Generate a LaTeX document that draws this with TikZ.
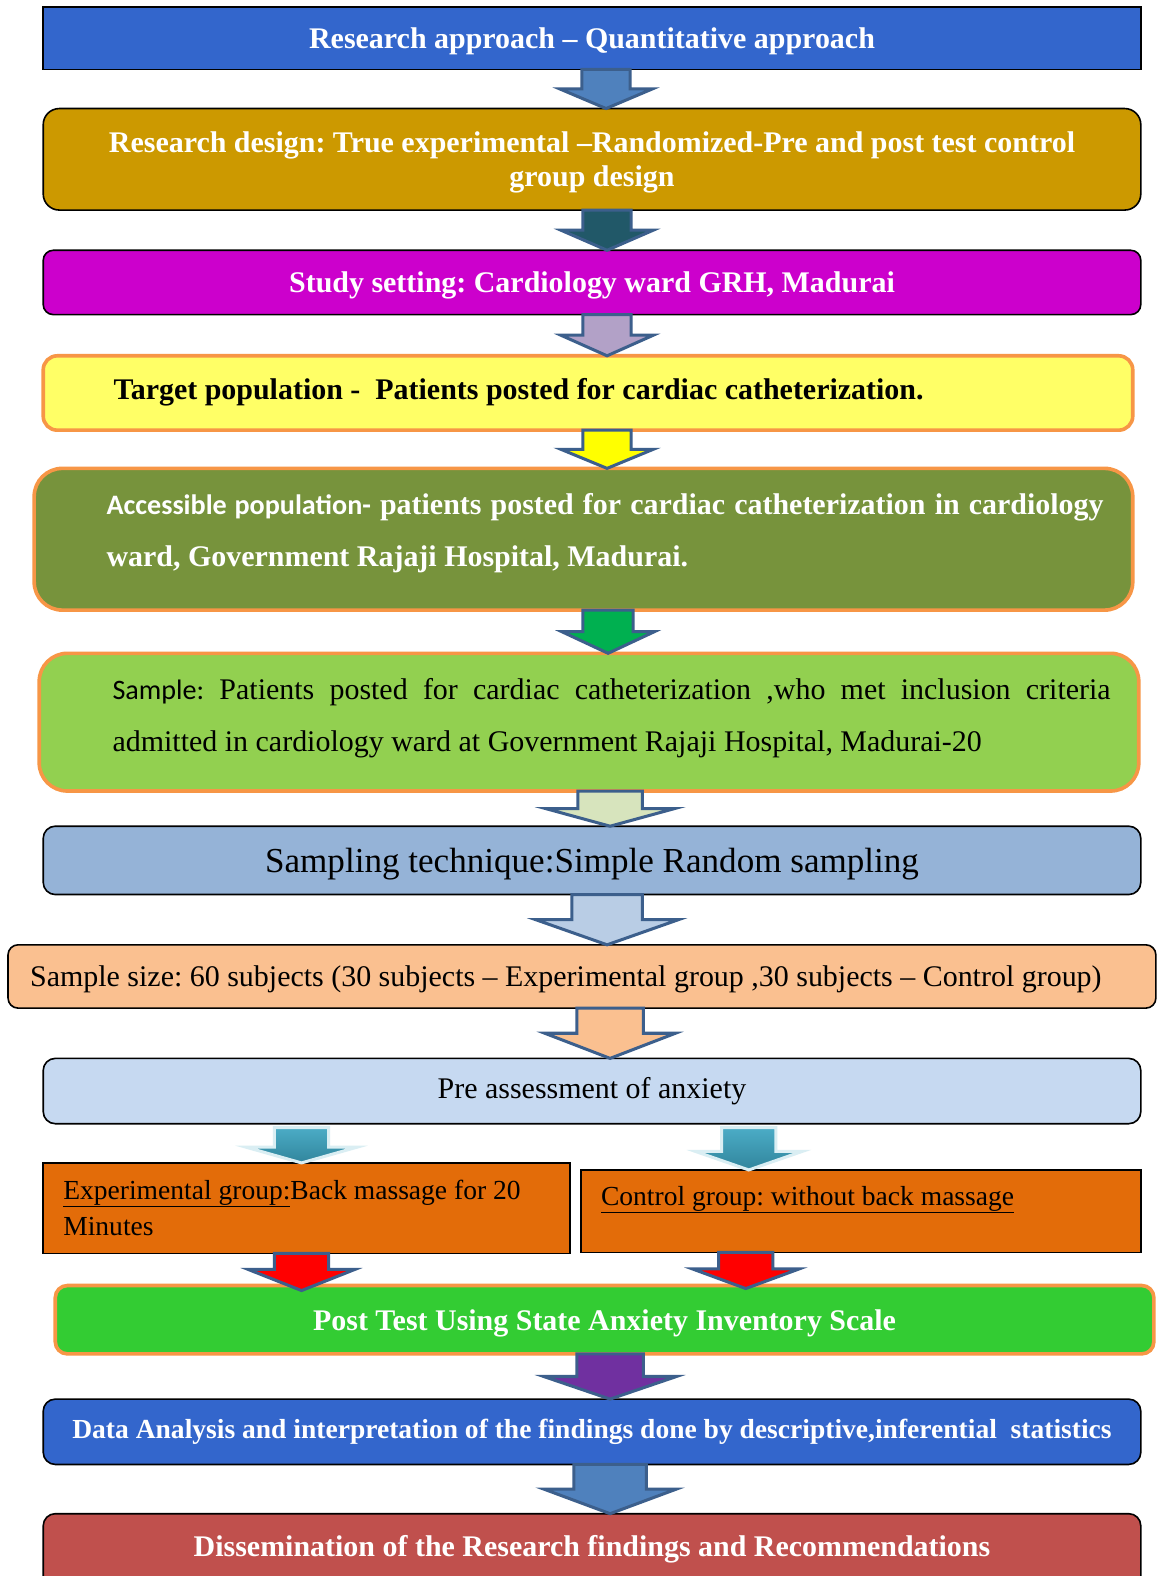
\documentclass[tikz,border=0pt]{standalone}
\usepackage{fontspec}
\setmainfont{Liberation Serif}
\newfontfamily\calibrifont{Carlito}
\usetikzlibrary{calc}
\frenchspacing
\definecolor{c1}{HTML}{3366CC}
\definecolor{c2}{HTML}{CC9900}
\definecolor{c3}{HTML}{CC00CC}
\definecolor{c4}{HTML}{FFFF66}
\definecolor{c5}{HTML}{77933C}
\definecolor{c6}{HTML}{92D050}
\definecolor{c7}{HTML}{95B3D7}
\definecolor{c8}{HTML}{FAC090}
\definecolor{c9}{HTML}{C6D9F1}
\definecolor{cten}{HTML}{E36C09}
\definecolor{celeven}{HTML}{33CC33}
\definecolor{cthirteen}{HTML}{C0504D}
\definecolor{orgline}{HTML}{F79646}
\definecolor{arrline}{HTML}{3C5F8C}
\definecolor{aA}{HTML}{4F81BD}
\definecolor{aB}{HTML}{215868}
\definecolor{aC}{HTML}{B2A1C7}
\definecolor{aD}{HTML}{FFFF00}
\definecolor{aE}{HTML}{00B050}
\definecolor{aF}{HTML}{D7E4BD}
\definecolor{aG}{HTML}{B9CDE5}
\definecolor{aH}{HTML}{FAC090}
\definecolor{aK}{HTML}{7030A0}
\definecolor{tealA}{HTML}{4BACC6}
\definecolor{tealB}{HTML}{31859C}
\definecolor{tglow}{HTML}{DAEEF3}
\newcommand\fsA{\fontsize{29.8}{34}\selectfont}
\newcommand\fsB{\fontsize{29.8}{36}\selectfont}
\newcommand\fsC{\fontsize{34.9}{40}\selectfont}
\newcommand\fsD{\fontsize{27.4}{30}\selectfont}
\newcommand\fsE{\fontsize{27.4}{36}\selectfont}
\tikzset{
  every node/.style={inner sep=0pt, outer sep=0pt},
  sqbox/.style={draw=black, line width=1.6pt, align=center},
  rbox/.style={draw=black, line width=1.6pt, align=center},
  obox/.style={draw=orgline, line width=3.6pt, align=center},
  wtxt/.style={text=white, font=\bfseries\fsA},
  low/.style={text depth=0pt},
  barrowline/.style={draw=arrline, line width=3pt, line join=miter},
}
% box: name, x1, y1, x2, y2, style, text
\newcommand\bx[7]{%
  \node[#6, minimum width={(#4-#2)*1pt}, minimum height={(#5-#3)*1pt}] (#1) at ({(#2+#4)/2},{(#3+#5)/2}) {#7};}
% block arrow: [overshoot] from, to, centre x, shaft half width, head half width, fill
\newcommand\barrow[7][0]{%
  \path[barrowline, fill=#7] let \p1=(#2.south), \p2=(#3.north), \n1={0.5*(\y1-\y2)} in
   ({(#4-#5)*1pt},\y1) -- ({(#4+#5)*1pt},\y1) -- ({(#4+#5)*1pt},{\y1-\n1}) --
   ({(#4+#6)*1pt},{\y1-\n1}) -- ({#4*1pt},{\y2-#1*1pt}) -- ({(#4-#6)*1pt},{\y1-\n1}) --
   ({(#4-#5)*1pt},{\y1-\n1}) -- cycle;}
% shaded teal arrow: from, to, centre x, shaft half, head half
\newcommand\tarrow[5]{%
  \path[draw=tglow, line width=3pt, line join=miter, top color=tealA, bottom color=tealB]
   let \p1=(#1.south), \p2=(#2.north), \n1={0.6*(\y1-\y2)} in
   ({(#3-#4)*1pt},{\y1-4pt}) -- ({(#3+#4)*1pt},{\y1-4pt}) -- ({(#3+#4)*1pt},{\y1-\n1}) --
   ({(#3+#5)*1pt},{\y1-\n1}) -- ({#3*1pt},\y2) -- ({(#3-#5)*1pt},{\y1-\n1}) --
   ({(#3-#4)*1pt},{\y1-\n1}) -- cycle;}
\begin{document}
\begin{tikzpicture}[x=1pt,y=-1pt]
\path[use as bounding box, fill=white] (0,0) rectangle (1151,1568);
% boxes
\bx{b1}{43}{7}{1135}{69}{sqbox, fill=c1, wtxt, low}{Research approach – Quantitative approach}
\bx{b2}{43}{108}{1135}{209}{rbox, fill=c2, wtxt, low, rounded corners=16pt}{Research design: True experimental –Randomized-Pre and post test control\\group design}
\bx{b3}{43}{249}{1135}{313}{rbox, fill=c3, wtxt, low, rounded corners=10pt}{Study setting: Cardiology ward GRH, Madurai}
\bx{b4}{43}{354}{1127}{428}{obox, fill=c4, rounded corners=14pt}{}
\bx{b5}{34}{466}{1127}{607}{obox, fill=c5, rounded corners=28pt}{}
\bx{b6}{39}{650}{1133}{787}{obox, fill=c6, rounded corners=28pt}{}
\bx{b7}{43}{822}{1135}{890}{rbox, fill=c7, low, rounded corners=12pt, font=\fsC}{Sampling technique:Simple Random sampling}
\bx{b8}{8}{940}{1150}{1003}{rbox, fill=c8, rounded corners=10pt}{}
\bx{b9}{43}{1053}{1135}{1118}{rbox, fill=c9, rounded corners=12pt, font=\fsB}{Pre assessment of anxiety}
\bx{b10l}{43}{1157}{567}{1247}{sqbox, fill=cten}{}
\bx{b10r}{578}{1164}{1135}{1246}{sqbox, fill=cten}{}
\bx{b11}{55}{1279}{1148}{1347}{obox, fill=celeven, rounded corners=12pt, wtxt, low}{Post Test Using State Anxiety Inventory Scale}
\bx{b12}{43}{1392}{1135}{1457}{rbox, fill=c1, rounded corners=12pt, text=white, font=\bfseries\fsD}{Data Analysis and interpretation of the findings done by descriptive,inferential\ \ statistics}
\bx{b13}{43}{1506}{1135}{1620}{rbox, fill=cthirteen, rounded corners=12pt}{}
% texts placed inside boxes
\node[font=\bfseries\fsA, anchor=base west] (t4) at (113,397) {Target population -\ \ Patients posted for cardiac catheterization.};
\node[text=white, font=\bfseries\fontsize{29.8}{52}\selectfont, text width=992pt, align=justify, anchor=base west] (t5) at (106,512)
 {{\calibrifont\fontsize{28}{52}\selectfont Accessible population-} patients posted for cardiac catheterization in cardiology\linebreak ward, Government Rajaji Hospital, Madurai.};
\node[font=\fontsize{29.8}{52}\selectfont, text width=993pt, align=justify, anchor=base west] (t6) at (112,696)
 {{\calibrifont\fontsize{28}{52}\selectfont Sample:} Patients posted for cardiac catheterization ,who met inclusion criteria\linebreak admitted in cardiology ward at Government Rajaji Hospital, Madurai-20};
\node[font=\fsB, anchor=base west] (t8) at (30,981) {Sample size: 60 subjects (30 subjects – Experimental group ,30 subjects – Control group)};
\node[font=\fsE, align=left, anchor=base west] (t10l) at (63,1229) {\underline{Experimental group:}Back massage for 20\\Minutes};
\node[font=\fsE, anchor=base west] (t10r) at (598,1199) {\underline{Control group: without back massage}};
\node[wtxt] (t13) at (589,1541) {Dissemination of the Research findings and Recommendations};
% arrows
\barrow{b1}{b2}{603}{24}{46}{aA}
\barrow{b2}{b3}{604}{24}{46}{aB}
\barrow{b3}{b4}{604}{24}{46}{aC}
\barrow{b4}{b5}{604}{24}{46}{aD}
\barrow{b5}{b6}{605}{25}{46}{aE}
\barrow{b6}{b7}{607}{32}{64}{aF}
\barrow{b7}{b8}{604}{35}{71}{aG}
\barrow{b8}{b9}{607}{33}{65}{aH}
\tarrow{b9}{b10l}{300}{27}{55}
\tarrow{b9}{b10r}{745}{27}{53}
\barrow[5]{b10l}{b11}{300}{27}{53}{red}
\barrow[3]{b10r}{b11}{742}{27}{53}{red}
\barrow{b11}{b12}{607}{33}{66}{aK}
\barrow{b12}{b13}{607}{36}{66}{aA}
\end{tikzpicture}
\end{document}
